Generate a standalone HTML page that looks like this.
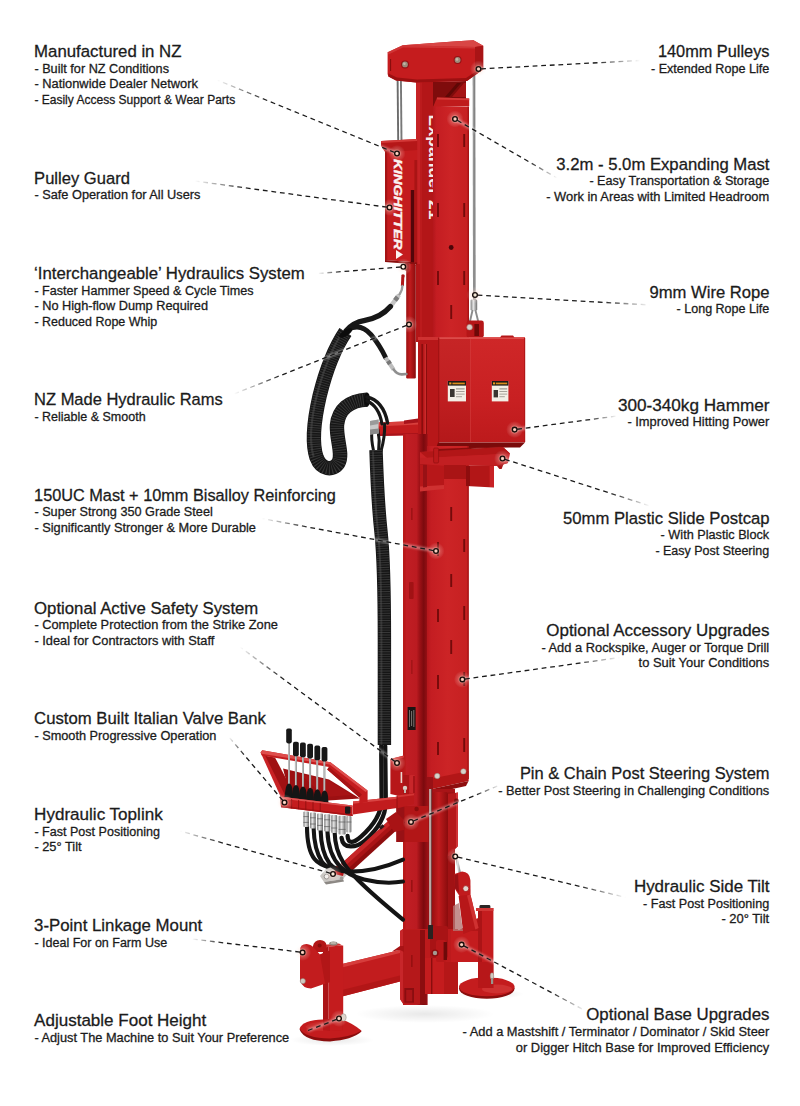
<!DOCTYPE html>
<html><head><meta charset="utf-8"><title>Post Driver Features</title>
<style>
html,body{margin:0;padding:0;background:#fff;}
body{width:800px;height:1106px;overflow:hidden;font-family:"Liberation Sans",sans-serif;}
svg{display:block;}
svg text{font-family:"Liberation Sans",sans-serif;}
</style></head><body>
<svg width="800" height="1106" viewBox="0 0 800 1106">
<defs>
<filter id="blur" x="-20%" y="-20%" width="140%" height="140%"><feGaussianBlur stdDeviation="1.3"/></filter>
<radialGradient id="glow"><stop offset="0" stop-color="#fff3d8" stop-opacity="0.9"/><stop offset="0.28" stop-color="#ffe6cf" stop-opacity="0.6"/><stop offset="0.55" stop-color="#ffd9cf" stop-opacity="0.22"/><stop offset="1" stop-color="#fff" stop-opacity="0"/></radialGradient>
<linearGradient id="lg0" gradientUnits="userSpaceOnUse" x1="397" y1="153.5" x2="217" y2="80"><stop offset="0" stop-color="#1a1a1a"/><stop offset="0.72" stop-color="#1a1a1a"/><stop offset="1" stop-color="#1a1a1a" stop-opacity="0"/></linearGradient>
<linearGradient id="lg1" gradientUnits="userSpaceOnUse" x1="389.5" y1="207.5" x2="195" y2="181"><stop offset="0" stop-color="#1a1a1a"/><stop offset="0.72" stop-color="#1a1a1a"/><stop offset="1" stop-color="#1a1a1a" stop-opacity="0"/></linearGradient>
<linearGradient id="lg2" gradientUnits="userSpaceOnUse" x1="403.3" y1="266.8" x2="318" y2="273.5"><stop offset="0" stop-color="#1a1a1a"/><stop offset="0.72" stop-color="#1a1a1a"/><stop offset="1" stop-color="#1a1a1a" stop-opacity="0"/></linearGradient>
<linearGradient id="lg3" gradientUnits="userSpaceOnUse" x1="409" y1="324.4" x2="234" y2="394"><stop offset="0" stop-color="#1a1a1a"/><stop offset="0.72" stop-color="#1a1a1a"/><stop offset="1" stop-color="#1a1a1a" stop-opacity="0"/></linearGradient>
<linearGradient id="lg4" gradientUnits="userSpaceOnUse" x1="436" y1="551" x2="262" y2="518.5"><stop offset="0" stop-color="#1a1a1a"/><stop offset="0.72" stop-color="#1a1a1a"/><stop offset="1" stop-color="#1a1a1a" stop-opacity="0"/></linearGradient>
<linearGradient id="lg5" gradientUnits="userSpaceOnUse" x1="397" y1="763" x2="240" y2="647"><stop offset="0" stop-color="#1a1a1a"/><stop offset="0.72" stop-color="#1a1a1a"/><stop offset="1" stop-color="#1a1a1a" stop-opacity="0"/></linearGradient>
<linearGradient id="lg6" gradientUnits="userSpaceOnUse" x1="284.5" y1="802.5" x2="229" y2="737"><stop offset="0" stop-color="#1a1a1a"/><stop offset="0.72" stop-color="#1a1a1a"/><stop offset="1" stop-color="#1a1a1a" stop-opacity="0"/></linearGradient>
<linearGradient id="lg7" gradientUnits="userSpaceOnUse" x1="333" y1="874" x2="180" y2="831"><stop offset="0" stop-color="#1a1a1a"/><stop offset="0.72" stop-color="#1a1a1a"/><stop offset="1" stop-color="#1a1a1a" stop-opacity="0"/></linearGradient>
<linearGradient id="lg8" gradientUnits="userSpaceOnUse" x1="302.6" y1="952.4" x2="192" y2="939"><stop offset="0" stop-color="#1a1a1a"/><stop offset="0.72" stop-color="#1a1a1a"/><stop offset="1" stop-color="#1a1a1a" stop-opacity="0"/></linearGradient>
<linearGradient id="lg10" gradientUnits="userSpaceOnUse" x1="478.5" y1="69" x2="640" y2="60.5"><stop offset="0" stop-color="#1a1a1a"/><stop offset="0.72" stop-color="#1a1a1a"/><stop offset="1" stop-color="#1a1a1a" stop-opacity="0"/></linearGradient>
<linearGradient id="lg11" gradientUnits="userSpaceOnUse" x1="455" y1="119" x2="557" y2="178"><stop offset="0" stop-color="#1a1a1a"/><stop offset="0.72" stop-color="#1a1a1a"/><stop offset="1" stop-color="#1a1a1a" stop-opacity="0"/></linearGradient>
<linearGradient id="lg12" gradientUnits="userSpaceOnUse" x1="475" y1="295" x2="650" y2="305"><stop offset="0" stop-color="#1a1a1a"/><stop offset="0.72" stop-color="#1a1a1a"/><stop offset="1" stop-color="#1a1a1a" stop-opacity="0"/></linearGradient>
<linearGradient id="lg13" gradientUnits="userSpaceOnUse" x1="514.6" y1="429.6" x2="617" y2="416"><stop offset="0" stop-color="#1a1a1a"/><stop offset="0.72" stop-color="#1a1a1a"/><stop offset="1" stop-color="#1a1a1a" stop-opacity="0"/></linearGradient>
<linearGradient id="lg14" gradientUnits="userSpaceOnUse" x1="502.5" y1="458.5" x2="650" y2="506"><stop offset="0" stop-color="#1a1a1a"/><stop offset="0.72" stop-color="#1a1a1a"/><stop offset="1" stop-color="#1a1a1a" stop-opacity="0"/></linearGradient>
<linearGradient id="lg15" gradientUnits="userSpaceOnUse" x1="462.4" y1="679.4" x2="620" y2="657.5"><stop offset="0" stop-color="#1a1a1a"/><stop offset="0.72" stop-color="#1a1a1a"/><stop offset="1" stop-color="#1a1a1a" stop-opacity="0"/></linearGradient>
<linearGradient id="lg16" gradientUnits="userSpaceOnUse" x1="411" y1="822" x2="500" y2="785"><stop offset="0" stop-color="#1a1a1a"/><stop offset="0.72" stop-color="#1a1a1a"/><stop offset="1" stop-color="#1a1a1a" stop-opacity="0"/></linearGradient>
<linearGradient id="lg17" gradientUnits="userSpaceOnUse" x1="455.2" y1="856.4" x2="626" y2="897.5"><stop offset="0" stop-color="#1a1a1a"/><stop offset="0.72" stop-color="#1a1a1a"/><stop offset="1" stop-color="#1a1a1a" stop-opacity="0"/></linearGradient>
<linearGradient id="lg18" gradientUnits="userSpaceOnUse" x1="461.6" y1="944.6" x2="585" y2="1010.5"><stop offset="0" stop-color="#1a1a1a"/><stop offset="0.72" stop-color="#1a1a1a"/><stop offset="1" stop-color="#1a1a1a" stop-opacity="0"/></linearGradient>
</defs>
<rect width="800" height="1106" fill="#fff"/>
<defs>
<linearGradient id="gFront" x1="0" x2="1" y1="0" y2="0"><stop offset="0" stop-color="#b4171c"/><stop offset="0.1" stop-color="#c41d22"/><stop offset="0.5" stop-color="#cc2426"/><stop offset="1" stop-color="#c62021"/></linearGradient>
<linearGradient id="gSide" x1="0" x2="1" y1="0" y2="0"><stop offset="0" stop-color="#c8252a"/><stop offset="0.12" stop-color="#c11e24"/><stop offset="0.55" stop-color="#bb1b21"/><stop offset="0.68" stop-color="#9c1116"/><stop offset="0.84" stop-color="#7c0a0e"/><stop offset="1" stop-color="#9a1015"/></linearGradient>
<linearGradient id="gCyl" x1="0" x2="1" y1="0" y2="0"><stop offset="0" stop-color="#9c1011"/><stop offset="0.4" stop-color="#c01b1d"/><stop offset="1" stop-color="#8a0c0d"/></linearGradient>
<linearGradient id="gBox" x1="0" x2="0" y1="0" y2="1"><stop offset="0" stop-color="#cf2728"/><stop offset="0.6" stop-color="#c82022"/><stop offset="1" stop-color="#bd1a1c"/></linearGradient>
<linearGradient id="gChrome" x1="0" x2="1" y1="0" y2="0"><stop offset="0" stop-color="#7e7e7e"/><stop offset="0.42" stop-color="#e6e6e6"/><stop offset="1" stop-color="#6c6c6c"/></linearGradient>
<radialGradient id="gShadow"><stop offset="0" stop-color="#000" stop-opacity="0.09"/><stop offset="1" stop-color="#000" stop-opacity="0"/></radialGradient>
<clipPath id="clipCol"><rect x="416" y="82" width="17.2" height="260"/></clipPath>
</defs>
<g id="machine">
<!-- ground shadows -->
<ellipse cx="425" cy="1014" rx="70" ry="9" fill="url(#gShadow)"/>
<ellipse cx="332" cy="1040" rx="42" ry="6" fill="url(#gShadow)"/>
<ellipse cx="490" cy="994" rx="34" ry="5" fill="url(#gShadow)"/>

<!-- ===== left guide rods & right rope ===== -->
<line x1="397.6" y1="78" x2="398.2" y2="141" stroke="#6c6c6c" stroke-width="1.9"/>
<line x1="400.9" y1="78" x2="401.5" y2="141" stroke="#787878" stroke-width="1.9"/>
<line x1="474" y1="70" x2="474.3" y2="301" stroke="#7a7a7a" stroke-width="2.6"/><line x1="473.7" y1="70" x2="474" y2="301" stroke="#b5b5b5" stroke-width="0.7"/>
<rect x="470.6" y="299.6" width="6.6" height="10.8" rx="1.2" fill="url(#gChrome)"/>
<path d="M472.6 310 L469.6 323 M475.4 310 L478.6 323" stroke="#8c8c8c" stroke-width="1.9" fill="none"/>

<!-- ===== main column (behind) ===== -->
<rect x="416" y="80" width="18" height="262" fill="#b31618"/>
<rect x="416" y="80" width="4" height="184" fill="#c62225"/><rect x="420" y="80" width="2" height="262" fill="#bb1b1d"/>
<g clip-path="url(#clipCol)"><text transform="translate(428.8,114.6) rotate(90)" font-size="17" font-weight="700" fill="#f6ebe8" textLength="105" lengthAdjust="spacingAndGlyphs">Expander 21</text></g>

<!-- gap + brace under head -->
<polygon points="433,82 466,81 466,99 433,108" fill="#7f0c0c"/>
<polygon points="452,97 464,83 466,83 466,97" fill="#a51415"/>
<polygon points="449,97 461,83 457,83 445,97" fill="#5e0806"/>
<!-- inner mast top cap -->
<polygon points="437,97.5 469.2,98.5 469.2,106 433,107.2" fill="#bf1b1c"/>
<polygon points="437,97.5 469.2,98.5 469.2,100.2 437,99.4" fill="#d43938"/>
<!-- inner mast front face -->
<rect x="433" y="106.5" width="35.6" height="232" fill="url(#gFront)"/>
<rect x="467.6" y="106.5" width="1.4" height="232" fill="#a81314"/>
<!-- slots upper -->
<g stroke="#740b0b" stroke-width="1.9" stroke-linecap="butt">
<line x1="438" y1="134" x2="438" y2="147"/><line x1="464.2" y1="134" x2="464.2" y2="147"/>
<line x1="438" y1="203" x2="438" y2="217"/><line x1="464.2" y1="203" x2="464.2" y2="217"/>
<line x1="438" y1="271" x2="438" y2="285"/><line x1="464.2" y1="271" x2="464.2" y2="285"/>
<line x1="451.2" y1="305" x2="451.2" y2="319"/>
</g>
<circle cx="451.2" cy="247.5" r="2.4" fill="#4a0508"/>

<!-- ===== head block ===== -->
<polygon points="387.6,52.2 402.7,45.3 457,41.2 473.5,40.2 483.2,45.8 483.2,69.4 478,73 467,81 416,82.6 396,80.4 388.4,76.4 387.6,74" fill="#c51c1e"/>
<polygon points="402.7,45.3 457,41.2 473.5,40.2 483.2,45.8 475,46.9" fill="#d84645"/>
<polygon points="387.6,52.2 402.7,45.3 475,46.9 475,48.6 403,47.6 388.4,54.6" fill="#d23b3b" opacity="0.8"/>
<polygon points="475,46.9 483.2,45.8 483.2,69.4 478,73 475,75.2" fill="#a91416"/>
<polygon points="388.4,76.4 396,80.4 416,82.6 467,81 478,73 483.2,69.4 483.2,66.6 476,71.4 466,78 417,79.6 397,77.4 388.4,73.4" fill="#9c1011"/>
<rect x="390" y="59" width="1.1" height="12" fill="#8a0d0d"/>
<circle cx="405" cy="64.4" r="4" fill="#941215"/><circle cx="405" cy="64.4" r="2.9" fill="#9b8b7b"/><circle cx="404.4" cy="63.8" r="1.3" fill="#c4b6a6"/>
<circle cx="457.6" cy="60" r="4" fill="#941215"/><circle cx="457.6" cy="60" r="2.9" fill="#9b8b7b"/><circle cx="457" cy="59.4" r="1.3" fill="#c4b6a6"/>

<!-- ===== pulley guard ===== -->
<polygon points="385,151 417.2,149 417.2,262.6 385,260" fill="#c41c1e"/>
<polygon points="381,141 417.2,139 417.2,150 385.4,152.4 381,146" fill="#b51718"/>
<polygon points="381,141 417.2,139 417.2,141 381.4,143" fill="#d33837"/>
<rect x="385" y="151" width="2.2" height="109" fill="#a51314"/>
<rect x="410.8" y="190" width="3.6" height="73" fill="#52060a"/>
<rect x="414.4" y="160" width="2.8" height="103" fill="#a91415"/>
<text transform="translate(394.4,159) rotate(90)" font-size="11.6" font-weight="700" font-style="italic" fill="#fbf3f1" stroke="#fbf3f1" stroke-width="0.4" textLength="90.5" lengthAdjust="spacingAndGlyphs">KINGHITTER</text>
<polygon points="396,250 403,254.5 396,259" fill="#fbf3f1"/>
<polygon points="385,260 417.2,262.6 417.2,264.6 385,262" fill="#8a0d0d"/>

<!-- ram cylinder -->
<rect x="406.2" y="264" width="9.6" height="114.5" rx="1.2" fill="url(#gCyl)"/>
<rect x="404.6" y="262.4" width="4" height="8" rx="1" fill="#8d0e0f"/>
<circle cx="403" cy="276" r="1.8" fill="#a81516"/>

<!-- ===== shackle above hammer ===== -->
<rect x="466.6" y="320.6" width="17.2" height="17" rx="2.4" fill="#b51618"/>
<rect x="474.4" y="324" width="4.6" height="12" fill="#6d0908"/>
<circle cx="469.6" cy="327.2" r="2.9" fill="#d9cdc6" stroke="#9c5f5a" stroke-width="0.6"/>

<!-- ===== hammer box ===== -->
<rect x="418" y="337" width="21" height="110" fill="#b71719"/>
<rect x="418" y="337" width="21" height="3" fill="#cf3131"/>
<rect x="421.4" y="344" width="1.6" height="92" fill="#8a0d0d"/>
<rect x="424.6" y="344" width="1.2" height="92" fill="#cf3131"/>
<rect x="426" y="344" width="1" height="92" fill="#8a0d0d"/>
<rect x="438" y="337.4" width="87" height="105" fill="url(#gBox)"/>
<rect x="438" y="337.4" width="32.4" height="105" fill="#000" opacity="0.045"/>
<line x1="470.4" y1="338" x2="470.4" y2="442" stroke="#d84545" stroke-width="0.7" opacity="0.8"/>
<rect x="438" y="337.2" width="87" height="1.8" fill="#dc4b4a"/>
<polygon points="500,337.6 501.5,335.4 513,335.4 514.5,337.6" fill="#b51618"/>
<rect x="438" y="337.4" width="1.3" height="105" fill="#a41213"/>
<rect x="524" y="338" width="1.2" height="104" fill="#b21617"/>
<!-- stickers -->
<g>
<rect x="447.8" y="381" width="18.2" height="20.4" fill="#f3efe6"/>
<rect x="447.8" y="381" width="18.2" height="4.6" fill="#1d1a16"/>
<rect x="449.2" y="382.4" width="2.2" height="2" fill="#eb9a1f"/><rect x="452.4" y="382.6" width="12.4" height="1.7" fill="#d98c1c"/>
<rect x="450" y="389" width="4.6" height="8" fill="#3a3631"/>
<rect x="456" y="388.4" width="8.6" height="1" fill="#8b867e"/><rect x="456" y="391" width="8.6" height="1" fill="#a7a29a"/><rect x="456" y="393.6" width="8.6" height="1" fill="#a7a29a"/><rect x="456" y="396.2" width="6" height="1" fill="#a7a29a"/>
<rect x="491.8" y="381" width="16.6" height="20.4" fill="#f3efe6"/>
<rect x="491.8" y="381" width="16.6" height="4.6" fill="#1d1a16"/>
<rect x="493" y="382.4" width="2.2" height="2" fill="#eb9a1f"/><rect x="496" y="382.6" width="11.2" height="1.7" fill="#d98c1c"/>
<rect x="493.6" y="390" width="4.4" height="7.4" fill="#3a3631"/>
<rect x="499.4" y="388.4" width="7.8" height="1" fill="#8b867e"/><rect x="499.4" y="391" width="7.8" height="1" fill="#a7a29a"/><rect x="499.4" y="393.6" width="7.8" height="1" fill="#a7a29a"/><rect x="499.4" y="396.2" width="5.4" height="1" fill="#a7a29a"/>
</g>
<!-- box bottom shadow -->
<polygon points="438,442.4 525,442.4 520,447.4 436,448.6" fill="#7a0a0a"/>

<!-- left arm from hammer frame (hose clamp arm) -->
<polygon points="377,422.6 418,421 418,435 377,436" fill="#c21c1d"/>
<polygon points="377,422.6 418,421 418,424.6 377,426.4" fill="#d83f3c"/>
<polygon points="377,434 418,433 418,435 377,436" fill="#a8131a"/>
<polygon points="404,420.4 418,418.6 418,422.4 404,424" fill="#a8131a"/>
<!-- ===== lower mast ===== -->
<rect x="403" y="434" width="24.6" height="571" fill="url(#gSide)"/>
<rect x="403" y="434" width="2.6" height="571" fill="#b8191a"/>
<rect x="427" y="446" width="41.4" height="333" fill="url(#gFront)"/>

<rect x="467.4" y="446" width="1.4" height="333" fill="#a81314"/>
<!-- faint details on side face -->
<rect x="411" y="508" width="1.6" height="12" fill="#8a0d0d" opacity="0.6"/>
<rect x="409" y="582" width="4.6" height="17" rx="1" fill="#9a1011" opacity="0.8"/>
<rect x="411" y="660" width="1.6" height="14" fill="#8a0d0d" opacity="0.5"/>
<!-- slots lower -->
<g stroke="#740b0b" stroke-width="1.9">
<line x1="451.2" y1="507" x2="451.2" y2="521"/>
<line x1="438" y1="542" x2="438" y2="556"/><line x1="464.2" y1="539" x2="464.2" y2="552"/>
<line x1="451.2" y1="574" x2="451.2" y2="587"/>
<line x1="438" y1="609" x2="438" y2="622"/><line x1="464.2" y1="606" x2="464.2" y2="620"/>
<line x1="451.2" y1="640" x2="451.2" y2="654"/>
<line x1="438" y1="675" x2="438" y2="689"/><line x1="464.2" y1="672" x2="464.2" y2="686"/>
<line x1="438" y1="742" x2="438" y2="755"/><line x1="464.2" y1="738" x2="464.2" y2="752"/>
</g>
<!-- black plate label -->
<rect x="407.6" y="707" width="8" height="23" fill="#1a1413"/>
<g stroke="#c9c2bd" stroke-width="0.7" opacity="0.8"><line x1="409.4" y1="710" x2="409.4" y2="727"/><line x1="411.6" y1="711" x2="411.6" y2="726"/><line x1="413.8" y1="710" x2="413.8" y2="727"/></g>

<!-- ===== postcap ===== -->
<polygon points="420,452 503,447 510,453.6 508,463 498,466 420,464" fill="#c82225"/>
<polygon points="420,452 503,447 510,453.6 427,458" fill="#b21617"/>
<polygon points="436,449 500,446.4 503,447 438,451" fill="#8a0d0d"/>
<polygon points="420,458 508,454 508,463 498,466 420,464.4" fill="#c21f22"/>
<rect x="433.6" y="448" width="5" height="15" rx="1.2" fill="#bb191b" stroke="#8a0d0d" stroke-width="0.6"/>
<polygon points="497,466 504,463 501.6,469 499.4,469" fill="#a81315"/>
<!-- brackets under postcap -->
<polygon points="420,464.4 444,465.4 444,487 420,489.4" fill="#b71719"/>
<polygon points="420,486.6 444,485 444,489 420,491.4" fill="#cf3131"/>
<polygon points="423,465 427,465 427,487 423,487.6" fill="#981115"/>
<polygon points="466,465.6 494,465.6 494,487.4 466,486" fill="#b21617"/>
<rect x="466" y="466" width="4" height="20" fill="#8e0d0e"/>
<rect x="489.6" y="466" width="4.4" height="21" fill="#c82225"/>
<rect x="444" y="465" width="22" height="14" fill="#a91415"/>

<!-- ===== lower front plate end + bolts ===== -->
<polygon points="430,779 468.6,771 468.6,781 432,789" fill="#b21617"/>
<polygon points="432,789 468.6,781 466,786 434,793" fill="#8e0d0e"/>
<circle cx="437.2" cy="776" r="2.7" fill="#d8d2ca" stroke="#8d857a" stroke-width="0.5"/>
<circle cx="463.4" cy="771.4" r="2.7" fill="#d8d2ca" stroke="#8d857a" stroke-width="0.5"/>

<!-- ===== lower assembly (below plate) ===== -->
<rect x="427" y="777" width="6" height="14" fill="#981115"/><rect x="427" y="789" width="28" height="205" fill="#a81417"/>
<rect x="427" y="789" width="6" height="150" fill="#981115"/>
<rect x="429.2" y="789" width="1.7" height="139" fill="#c9c4be"/>
<rect x="430.9" y="789" width="0.8" height="139" fill="#6a5552"/>
<rect x="432.6" y="792" width="15.4" height="151" rx="2" fill="url(#gCyl)"/>
<rect x="448" y="792" width="7" height="140" fill="#a01214"/>
<polygon points="448,794 458,792.6 458,846 449,856 448,856" fill="#b5181a"/><polygon points="456,793 458,792.6 458,846 456,848" fill="#cf3134"/>
<circle cx="456.4" cy="801" r="2.4" fill="#7d0b0b"/>

<!-- left bracket on mast (safety system) -->
<polygon points="390.4,759 404,755.6 404,797 390.4,794" fill="#b71719"/>
<polygon points="390.4,759 404,755.6 404,757.6 390.4,761" fill="#d03635"/>
<rect x="400.6" y="772" width="1.6" height="11" fill="#e9d9d0"/>
<rect x="403" y="775" width="6" height="22" fill="#ab1416"/><rect x="409.4" y="775" width="5.6" height="18" rx="1.4" fill="#c8262a"/><rect x="413" y="776" width="2" height="17" fill="#a51318"/>
<circle cx="405" cy="788" r="2.2" fill="#d9cfc6"/><rect x="404" y="789" width="2" height="4" fill="#c5bbb2"/>

<!-- horizontal arm to valve bank -->

<!-- lower mast bracket near pin -->
<rect x="396.4" y="806" width="32" height="36" fill="#b21617"/>
<rect x="396.4" y="806" width="8" height="36" fill="#981115"/>
<circle cx="416.6" cy="809" r="2.2" fill="#8a0d0d"/>
<circle cx="401.4" cy="823.6" r="1.6" fill="#7d0b0b"/>

<!-- ===== base block ===== -->
<polygon points="400,931 403,929 458,929 458,993 425,994 425,1003.4 403.6,1004.6 400,999" fill="#bd1a1c"/>
<polygon points="400,931 403,929 403.6,1004.6 400,999" fill="#c7262a"/>
<rect x="403" y="930" width="22" height="74" fill="#b5181a"/><rect x="420" y="930" width="5" height="74" fill="#8c0d0f"/>
<rect x="425" y="958" width="19" height="36" fill="#c41c1e"/><rect x="431" y="958" width="1.4" height="36" fill="#8a0d0d"/>
<rect x="444" y="962" width="14" height="32" fill="#b51718"/>
<rect x="404.4" y="988" width="9.6" height="14.6" fill="#8a0d10"/>
<rect x="406.2" y="990" width="6" height="11.4" fill="#ab1518"/>
<rect x="411" y="880" width="1.6" height="12" fill="#8a0d0d" opacity="0.7"/>
<rect x="411" y="955" width="1.6" height="12" fill="#8a0d0d" opacity="0.7"/>
<!-- pin/clevis at base of cylinder -->
<rect x="430" y="926" width="18" height="32" rx="2" fill="#a81315"/>
<rect x="436" y="940" width="10" height="22" rx="2" fill="#b71719"/>
<circle cx="435" cy="953" r="3.6" fill="#8a0d0d"/><circle cx="435" cy="953" r="2.2" fill="#a39a92"/>
<rect x="443.6" y="942" width="3.4" height="18" fill="#6d0a09"/>
<rect x="428" y="925" width="5" height="14" fill="#2a2220"/>

<!-- ===== 3-pt linkage beam ===== -->
<polygon points="342,964 400,950 400,981.6 342,996.6" fill="#c21c1e"/>
<polygon points="342,964 400,950 400,953 342,967.4" fill="#d63d3c"/>
<polygon points="342,990 400,975.6 400,981.6 342,996.6" fill="#b21617"/>
<polygon points="392,951.6 400,946 404,946 404,952 400,950" fill="#a81315"/>
<!-- left post -->
<polygon points="323,948 328.6,946.6 328.6,1030 323,1029" fill="#ab1417"/>
<polygon points="328.6,946.6 343.2,945.6 343.2,1029 328.6,1030" fill="#c41c1e"/>
<polygon points="323,948 330,946.6 342.4,945.6 339,943.6 321.6,945" fill="#d03635"/>
<ellipse cx="333.4" cy="943.6" rx="4.2" ry="2" fill="#8f887f"/><ellipse cx="333.4" cy="943" rx="3" ry="1.3" fill="#b9b2a8"/>
<!-- rear ear -->
<path d="M313,946 Q314,940.6 320,940 Q326,940.4 326.4,945 L326.4,952 L313,952 Z" fill="#b21617"/>
<circle cx="319.6" cy="945.6" r="2" fill="#8a0d0d"/>
<!-- front linkage plate -->
<path d="M300,950 Q300,944 306.6,944 Q311.6,944.4 314,948 L320,954.4 L330,950.4 L330,982 L311,988.6 Q303,988.6 300,981 Z" fill="#c21c1e"/>
<path d="M320,954.4 L330,950.4 L330,982 L325,983.6 Z" fill="#b21617"/>
<circle cx="302.8" cy="981" r="2.6" fill="#d0c9c0" stroke="#8d857a" stroke-width="0.5"/>
<!-- left foot -->
<path d="M299.6,1029.4 Q303,1021 323,1020 L342,1020 Q352,1024 361.6,1031.6 Q352,1040 330,1041.4 Q304,1041 299.6,1029.4 Z" fill="#8a0d0d"/>
<path d="M299.6,1028.4 Q303,1020.4 323,1019.6 L342,1019.6 Q352,1023 361.6,1030.8 Q350,1037.4 330,1038.4 Q305,1038 299.6,1028.4 Z" fill="#c41c1e"/>
<path d="M305,1027 Q310,1022.4 323,1021.6 L323,1031 Q312,1031 305,1027Z" fill="#d03635" opacity="0.55"/>
<polygon points="323,1019 342.4,1019 342.4,1030 330,1031 323,1030" fill="#b71719"/>
<polygon points="330,1019 342.4,1019 342.4,1030 330,1031" fill="#c41c1e"/>
<ellipse cx="343.6" cy="1017.4" rx="2.6" ry="3.6" fill="#d6d0c8" stroke="#8d857a" stroke-width="0.5"/>

<!-- ===== right side: gusset, post, foot ===== -->
<polygon points="458,931 478,921 478,912 493,908 493,962 458,962" fill="#c11b1d"/>
<polygon points="451,930 493,930 493,962 451,962" fill="#c41c1e"/>
<polygon points="458,931 478,918 478,931" fill="#b21617"/>
<!-- right foot disc -->
<ellipse cx="486.8" cy="988.6" rx="27.8" ry="10.2" fill="#8a0d0d"/>
<ellipse cx="486.8" cy="986.8" rx="27.8" ry="9.4" fill="#c41c1e"/>
<ellipse cx="497" cy="989" rx="15" ry="4.4" fill="#d94544" opacity="0.5"/>
<!-- right post -->
<rect x="478" y="908" width="15.4" height="80" fill="#c41c1e"/>
<rect x="478" y="908" width="4" height="80" fill="#ab1416"/>
<rect x="478" y="962" width="15.4" height="26" fill="#b71719"/>
<rect x="479.4" y="905" width="11" height="4.4" rx="1.4" fill="#2b2524"/>
<polygon points="476,908 493.4,908 493.4,911 476,911" fill="#d03635"/>
<ellipse cx="492" cy="976" rx="1.8" ry="3.2" fill="#cfc8bf" stroke="#8d857a" stroke-width="0.4"/>
<rect x="491" y="978" width="2.2" height="6" fill="#9a948c"/>

<!-- side tilt ram -->
<polygon points="455.4,858 457.6,857.4 461,873 458.4,873.6" fill="url(#gChrome)"/>
<path d="M454.4,874 L462,871.6 Q469.6,872 470.4,880 L470.6,894 Q468,900 461,898.6 L455,889 Z" fill="#c11b1d"/>
<path d="M454.6,875 L458,874 L459,893 L455,888 Z" fill="#981115"/>
<circle cx="465.8" cy="888.6" r="3" fill="#e0d6cf" stroke="#a41315" stroke-width="0.8"/>
<polygon points="458.6,896 470.4,894.6 478.6,928 463.4,934" fill="#b71719"/>
<polygon points="467,895.4 470.4,894.6 478.6,928 475.4,929.4" fill="#cf3131"/>
<polygon points="453,906 459,903 463,931 453,931" fill="#b57472" opacity="0.8"/>

<!-- ===== HOSES ===== -->
<g fill="none" stroke-linecap="round">
<!-- hoses from couplers sweeping to mast (drawn before toplink) -->
<g stroke="#141414" stroke-width="4.1">
<path d="M381.2,746 L381.6,800 C381.4,814 373,826 361,836.6 C353,843.6 348,844 347.6,836" stroke-width="4.3"/>
<path d="M385.2,746 L385.8,802 C385.6,817 377,830 365,840.6 C357,847.6 343,850 341.6,838" stroke-width="4.3"/>
<path d="M307,826 C307,842 309,852 314.5,859 C318,863.6 324,866 331,868"/>
<path d="M313.6,828 C314,844 317,854 322,862 C325.6,866.6 330,868.6 336,870"/>
</g>
</g>

<!-- ===== toplink ram ===== -->
<polygon points="396,814 404,822 349,872 341,864" fill="#aa1416"/>
<polygon points="396,814 399,817 344,867 341,864" fill="#c72628"/>
<polygon points="402,819.6 405,822.6 349.6,873 346.6,870" fill="#8e0d0e"/>
<polygon points="386,819 396,812 404,820 404,830 394,832" fill="#a81315"/>
<rect x="379" y="826" width="5" height="3" transform="rotate(-42 381 827)" fill="#2a1a1a"/>
<!-- silver clevis -->
<polygon points="341,864 349,872 343,879 324,882 320,876 326,869" fill="#c9c6c2"/>
<polygon points="324,882 343,879 344,881.6 326,884.6" fill="#8b8783"/>
<circle cx="326.6" cy="876.6" r="2.4" fill="#f2f0ee" stroke="#8b8783" stroke-width="0.8"/>
<polygon points="336,866 345,868 343,876 334,874" fill="#b71719"/>
<circle cx="341.6" cy="878.4" r="1.8" fill="#9d9a96"/>

<g fill="none" stroke-linecap="round">
<g stroke="#141414" stroke-width="4.1">
<path d="M320.6,830 C321,846 324,856 329.5,863.5 C334,869 340,871.4 348,871.6 C366,872 386,867 403,859.6"/>
<path d="M327.4,831 C328,848 332,858 340,866.5 C346,873 354,877 364,879.6 C378,883 392,883.4 403,881.6"/>
<path d="M334.6,832 C335,846 338,854 343,862 C347,868.6 352,874 358,880 C366,888 384,904 403,919.6"/>
</g>

<!-- upper thin hoses -->
<path d="M402.8,277 L402.4,286" stroke="#b01718" stroke-width="3" stroke-linecap="butt"/>
<path d="M402.4,286 C402.4,291 400.6,292.6 399,295" stroke="#9a9a9a" stroke-width="2.4"/>
<path d="M399,295 L390.4,306.6" stroke="#c4c4c4" stroke-width="4.4" stroke-linecap="butt"/>
<path d="M397.6,297 L395,300.4" stroke="#7d7d7d" stroke-width="4.6" stroke-linecap="butt"/>
<path d="M390.4,306.6 C384,314 375,318.6 365,320.4 C356,322 350,326 346,331" stroke="#171717" stroke-width="5.3"/>
<path d="M348,329.6 C356,325 364,326.4 371,334.6 C378,343 382.6,351 385.6,357.6" stroke="#171717" stroke-width="4.8"/>
<path d="M385.6,357.6 L393.6,369.6" stroke="#bdbdbd" stroke-width="4.2" stroke-linecap="butt"/>
<path d="M388,361 L390,364" stroke="#777" stroke-width="4.4" stroke-linecap="butt"/>
<path d="M393.6,369.6 C396,373 399,374.6 402,374.4 L406.4,374" stroke="#8f8f8f" stroke-width="2.6"/>

<!-- big corrugated loop -->
<path id="hoseA" d="M345.4,332 C336,346 326,370 319.6,396 C313.6,422 312,444 316.6,457.6 C321,469.6 333,471.4 338.4,463 C343.4,454.6 336,439 337,425 C338.4,410 349,400.6 367,399.6" stroke="#161616" stroke-width="14.4" stroke-linecap="butt"/>
<path d="M345.4,332 C336,346 326,370 319.6,396 C313.6,422 312,444 316.6,457.6 C321,469.6 333,471.4 338.4,463 C343.4,454.6 336,439 337,425 C338.4,410 349,400.6 367,399.6" stroke="#3d3d3d" stroke-width="13" stroke-dasharray="0.9 1.5" stroke-linecap="butt" opacity="0.85"/>
<path d="M342,333 C333,347 323,371 316.4,397 C311,420 309.4,442 313.4,456" stroke="#555" stroke-width="2.2" opacity="0.45"/>
<!-- hose ends -->
<ellipse cx="345.6" cy="333" rx="7.6" ry="3" transform="rotate(-32 345.6 333)" fill="#0c0c0c"/>
<ellipse cx="367" cy="399.6" rx="3" ry="7.2" fill="#0c0c0c"/>

<!-- thin hoses from loop end to clamp -->
<path d="M367,397 C377,399 385,408 387.6,423" stroke="#171717" stroke-width="3.4"/>
<path d="M367,401 C374,404 380,412 382,424" stroke="#171717" stroke-width="3.2"/>
<path d="M372,430 C371,438 372,444 373.6,451" stroke="#171717" stroke-width="3"/>
<path d="M378,430 C379.6,438 379.6,444 378.6,451" stroke="#171717" stroke-width="3"/>
<path d="M384.6,424 C385,434 383,444 381,451" stroke="#171717" stroke-width="3"/>

<!-- lower corrugated hose -->
<path d="M376,450 C377,480 378,505 381,532 C384,560 384.4,600 384.4,640 L384.4,745" stroke="#161616" stroke-width="13.4" stroke-linecap="butt"/>
<path d="M376,450 C377,480 378,505 381,532 C384,560 384.4,600 384.4,640 L384.4,745" stroke="#3d3d3d" stroke-width="12" stroke-dasharray="0.9 1.5" stroke-linecap="butt" opacity="0.85"/>
<path d="M373,452 C374,480 375,505 378,532 C381,560 381.4,600 381.4,640 L381.4,744" stroke="#5a5a5a" stroke-width="2" opacity="0.4"/>
</g>
<!-- clamp block -->
<polygon points="370,421 378.6,419.6 378.6,433.4 370,434.6" fill="#c9c9c9"/>
<polygon points="370,421 378.6,419.6 378.6,424 370,425.4" fill="#9a9a9a"/>
<polygon points="370,429.4 378.6,428.4 378.6,433.4 370,434.6" fill="#8a8a8a"/>

<!-- arm -->
<polygon points="353,801.6 397,796.8 397,808 353,814.6" fill="#c21c1e"/>
<polygon points="353,801.6 397,796.8 397,798.8 353,803.8" fill="#d94544"/>
<polygon points="397,795.6 414,793.4 414,804 397,808.6" fill="#bb191b"/>
<polygon points="397,795.6 414,793.4 414,795.2 397,797.4" fill="#d23534"/>
<line x1="397" y1="795.6" x2="397" y2="808.6" stroke="#8e0d0e" stroke-width="0.8"/>
<!-- ===== VALVE BANK ===== -->
<!-- left side plate + tray -->
<polygon points="264,755.4 275,757.4 291,788 285.4,797 281,797" fill="#a01113"/>
<polygon points="283,768.6 329,779.4 360,798.6 328,800.6 290,796" fill="#9c1012"/>
<polygon points="300,774 329,780.6 352,795 325,797" fill="#b11618" opacity="0.55"/>
<!-- guard: left rail, top rail, right diagonal -->
<polygon points="260.6,752.6 264.6,754.4 285.6,796.6 281,797.4" fill="#c82225"/>
<polygon points="260.6,752.4 262.2,750.2 330.4,762.2 367.6,790.4 367.6,802 359.4,803.4 359.4,797.6 327.2,769.6 329,767 261.8,755.4" fill="#c41c1e"/>
<polygon points="260.6,752.4 262.2,750.2 330.4,762.2 367.6,790.4 365.6,792 329.6,764.6 261.6,753.8" fill="#de4d4c"/>
<polygon points="327.2,769.6 329,767 362,794.6 359.4,797.6" fill="#a81315"/>
<!-- lever rods -->
<g stroke-width="2">
<line x1="289" y1="742" x2="289" y2="786" stroke="#8f8f8f"/>
<line x1="295.9" y1="755" x2="295.9" y2="787" stroke="#8f8f8f"/>
<line x1="303" y1="756" x2="303" y2="788" stroke="#8f8f8f"/>
<line x1="310.1" y1="757" x2="310.1" y2="790" stroke="#8f8f8f"/>
<line x1="317.2" y1="759" x2="317.2" y2="791" stroke="#8f8f8f"/>
<line x1="324.4" y1="760" x2="324.4" y2="793" stroke="#8f8f8f"/>
</g>
<g stroke-width="0.7" stroke="#e6e6e6">
<line x1="288.8" y1="742" x2="288.8" y2="786"/><line x1="295.7" y1="755" x2="295.7" y2="787"/><line x1="302.8" y1="756" x2="302.8" y2="788"/><line x1="309.9" y1="757" x2="309.9" y2="790"/><line x1="317" y1="759" x2="317" y2="791"/><line x1="324.2" y1="760" x2="324.2" y2="793"/>
</g>
<!-- handles -->
<g fill="#171717">
<rect x="286.2" y="728.4" width="5.6" height="15" rx="1.8"/>
<rect x="293" y="741.8" width="5.8" height="14.4" rx="1.8"/>
<rect x="300" y="742.6" width="5.8" height="14.6" rx="1.8"/>
<rect x="307.2" y="743.8" width="5.8" height="14.6" rx="1.8"/>
<rect x="314.4" y="745.6" width="5.8" height="14.6" rx="1.8"/>
<rect x="321.6" y="747" width="5.8" height="14.6" rx="1.8"/>
</g>
<!-- lever bases -->
<g fill="#151515">
<path d="M284.4,797 L285.6,789 Q286.4,784 289,783.6 Q291.6,784 292.4,789 L293,798.6Z"/>
<path d="M291.4,798.6 L292.6,790.4 Q293.4,785.4 296,785 Q298.6,785.4 299.4,790.4 L300,800Z"/>
<path d="M298.4,800 L299.6,791.8 Q300.4,786.8 303,786.4 Q305.6,786.8 306.4,791.8 L307,801.4Z"/>
<path d="M305.6,801.2 L306.8,793.2 Q307.6,788.2 310.2,787.8 Q312.8,788.2 313.6,793.2 L314.2,802.6Z"/>
<path d="M312.8,802.4 L314,794.6 Q314.8,789.6 317.4,789.2 Q320,789.6 320.8,794.6 L321.4,803.8Z"/>
<path d="M320,803.6 L321.2,796 Q322,791 324.6,790.6 Q327.2,791 328,796 L328.6,805Z"/>
</g>
<!-- valve block -->
<polygon points="279.8,796.6 352.6,805.4 352.6,816 281,807.2" fill="#c41c1e"/>
<polygon points="279.8,796.6 352.6,805.4 352.6,807 279.9,798.4" fill="#de5150"/>
<polygon points="281,805.6 352.6,814.4 352.6,816 281,807.2" fill="#a81315"/>
<g stroke="#8e0d0e" stroke-width="0.8"><line x1="291.6" y1="799" x2="291.6" y2="808.4"/><line x1="298.6" y1="800" x2="298.6" y2="809.2"/><line x1="305.8" y1="801" x2="305.8" y2="810"/><line x1="313" y1="802" x2="313" y2="811"/><line x1="320.2" y1="803" x2="320.2" y2="812"/></g>
<rect x="345" y="806.4" width="5.4" height="7.4" rx="1.2" fill="#191919"/>
<!-- couplers -->
<g>
<rect x="303.4" y="811.6" width="5.6" height="15.4" rx="1" fill="url(#gChrome)"/>
<rect x="310" y="812.6" width="5.8" height="16" rx="1" fill="url(#gChrome)"/>
<rect x="317" y="813.4" width="6" height="17" rx="1" fill="url(#gChrome)"/>
<rect x="324.2" y="814.2" width="6" height="17.4" rx="1" fill="url(#gChrome)"/>
<rect x="331.2" y="815" width="6" height="18" rx="1" fill="url(#gChrome)"/>
<rect x="338.6" y="815.8" width="7" height="18.8" rx="1" fill="url(#gChrome)"/>
<rect x="346.4" y="816" width="5" height="16.4" rx="1" fill="url(#gChrome)"/>
<g stroke="#5d5d5d" stroke-width="0.9" opacity="0.8"><line x1="303.4" y1="816.6" x2="309" y2="816.6"/><line x1="310" y1="817.8" x2="315.8" y2="817.8"/><line x1="317" y1="818.8" x2="323" y2="818.8"/><line x1="324.2" y1="819.8" x2="330.2" y2="819.8"/><line x1="331.2" y1="820.8" x2="337.2" y2="820.8"/><line x1="338.6" y1="822" x2="345.6" y2="822"/><line x1="346.4" y1="822" x2="351.4" y2="822"/>
<line x1="303.4" y1="822.4" x2="309" y2="822.4"/><line x1="310" y1="824" x2="315.8" y2="824"/><line x1="317" y1="825.4" x2="323" y2="825.4"/><line x1="324.2" y1="826.6" x2="330.2" y2="826.6"/><line x1="331.2" y1="828" x2="337.2" y2="828"/><line x1="338.6" y1="829.4" x2="345.6" y2="829.4"/></g>
</g>
</g>

<g id="glows">
<circle cx="397" cy="153.5" r="8.5" fill="url(#glow)"/>
<circle cx="389.5" cy="207.5" r="8.5" fill="url(#glow)"/>
<circle cx="403.3" cy="266.8" r="8.5" fill="url(#glow)"/>
<circle cx="409" cy="324.4" r="8.5" fill="url(#glow)"/>
<circle cx="436" cy="551" r="8.5" fill="url(#glow)"/>
<circle cx="397" cy="763" r="8.5" fill="url(#glow)"/>
<circle cx="284.5" cy="802.5" r="8.5" fill="url(#glow)"/>
<circle cx="333" cy="874" r="8.5" fill="url(#glow)"/>
<circle cx="302.6" cy="952.4" r="8.5" fill="url(#glow)"/>
<circle cx="339" cy="1018.5" r="8.5" fill="url(#glow)"/>
<circle cx="478.5" cy="69" r="8.5" fill="url(#glow)"/>
<circle cx="455" cy="119" r="8.5" fill="url(#glow)"/>
<circle cx="475" cy="295" r="8.5" fill="url(#glow)"/>
<circle cx="514.6" cy="429.6" r="8.5" fill="url(#glow)"/>
<circle cx="502.5" cy="458.5" r="8.5" fill="url(#glow)"/>
<circle cx="462.4" cy="679.4" r="8.5" fill="url(#glow)"/>
<circle cx="411" cy="822" r="8.5" fill="url(#glow)"/>
<circle cx="455.2" cy="856.4" r="8.5" fill="url(#glow)"/>
<circle cx="461.6" cy="944.6" r="8.5" fill="url(#glow)"/>
</g>
<g id="halos" stroke="#fff" stroke-width="3.2" opacity="0.42" filter="url(#blur)">
<line x1="397" y1="153.5" x2="217" y2="80"/>
<line x1="389.5" y1="207.5" x2="195" y2="181"/>
<line x1="403.3" y1="266.8" x2="318" y2="273.5"/>
<line x1="409" y1="324.4" x2="234" y2="394"/>
<line x1="436" y1="551" x2="262" y2="518.5"/>
<line x1="397" y1="763" x2="240" y2="647"/>
<line x1="284.5" y1="802.5" x2="229" y2="737"/>
<line x1="333" y1="874" x2="180" y2="831"/>
<line x1="302.6" y1="952.4" x2="192" y2="939"/>
<line x1="339" y1="1018.5" x2="308" y2="1030.5"/>
<line x1="478.5" y1="69" x2="640" y2="60.5"/>
<line x1="455" y1="119" x2="557" y2="178"/>
<line x1="475" y1="295" x2="650" y2="305"/>
<line x1="514.6" y1="429.6" x2="617" y2="416"/>
<line x1="502.5" y1="458.5" x2="650" y2="506"/>
<line x1="462.4" y1="679.4" x2="620" y2="657.5"/>
<line x1="411" y1="822" x2="500" y2="785"/>
<line x1="455.2" y1="856.4" x2="626" y2="897.5"/>
<line x1="461.6" y1="944.6" x2="585" y2="1010.5"/>
</g>
<g id="leaders" fill="none">
<line x1="397" y1="153.5" x2="217" y2="80" stroke="url(#lg0)" stroke-width="1.3" stroke-dasharray="4.8 3.8" stroke-dashoffset="-2.6"/>
<line x1="389.5" y1="207.5" x2="195" y2="181" stroke="url(#lg1)" stroke-width="1.3" stroke-dasharray="4.8 3.8" stroke-dashoffset="-2.6"/>
<line x1="403.3" y1="266.8" x2="318" y2="273.5" stroke="url(#lg2)" stroke-width="1.3" stroke-dasharray="4.8 3.8" stroke-dashoffset="-2.6"/>
<line x1="409" y1="324.4" x2="234" y2="394" stroke="url(#lg3)" stroke-width="1.3" stroke-dasharray="4.8 3.8" stroke-dashoffset="-2.6"/>
<line x1="436" y1="551" x2="262" y2="518.5" stroke="url(#lg4)" stroke-width="1.3" stroke-dasharray="4.8 3.8" stroke-dashoffset="-2.6"/>
<line x1="397" y1="763" x2="240" y2="647" stroke="url(#lg5)" stroke-width="1.3" stroke-dasharray="4.8 3.8" stroke-dashoffset="-2.6"/>
<line x1="284.5" y1="802.5" x2="229" y2="737" stroke="url(#lg6)" stroke-width="1.3" stroke-dasharray="4.8 3.8" stroke-dashoffset="-2.6"/>
<line x1="333" y1="874" x2="180" y2="831" stroke="url(#lg7)" stroke-width="1.3" stroke-dasharray="4.8 3.8" stroke-dashoffset="-2.6"/>
<line x1="302.6" y1="952.4" x2="192" y2="939" stroke="url(#lg8)" stroke-width="1.3" stroke-dasharray="4.8 3.8" stroke-dashoffset="-2.6"/>
<line x1="339" y1="1018.5" x2="308" y2="1030.5" stroke="#1a1a1a" stroke-width="1.3" stroke-dasharray="4.8 3.8" stroke-dashoffset="-2.6"/>
<line x1="478.5" y1="69" x2="640" y2="60.5" stroke="url(#lg10)" stroke-width="1.3" stroke-dasharray="4.8 3.8" stroke-dashoffset="-2.6"/>
<line x1="455" y1="119" x2="557" y2="178" stroke="url(#lg11)" stroke-width="1.3" stroke-dasharray="4.8 3.8" stroke-dashoffset="-2.6"/>
<line x1="475" y1="295" x2="650" y2="305" stroke="url(#lg12)" stroke-width="1.3" stroke-dasharray="4.8 3.8" stroke-dashoffset="-2.6"/>
<line x1="514.6" y1="429.6" x2="617" y2="416" stroke="url(#lg13)" stroke-width="1.3" stroke-dasharray="4.8 3.8" stroke-dashoffset="-2.6"/>
<line x1="502.5" y1="458.5" x2="650" y2="506" stroke="url(#lg14)" stroke-width="1.3" stroke-dasharray="4.8 3.8" stroke-dashoffset="-2.6"/>
<line x1="462.4" y1="679.4" x2="620" y2="657.5" stroke="url(#lg15)" stroke-width="1.3" stroke-dasharray="4.8 3.8" stroke-dashoffset="-2.6"/>
<line x1="411" y1="822" x2="500" y2="785" stroke="url(#lg16)" stroke-width="1.3" stroke-dasharray="4.8 3.8" stroke-dashoffset="-2.6"/>
<line x1="455.2" y1="856.4" x2="626" y2="897.5" stroke="url(#lg17)" stroke-width="1.3" stroke-dasharray="4.8 3.8" stroke-dashoffset="-2.6"/>
<line x1="461.6" y1="944.6" x2="585" y2="1010.5" stroke="url(#lg18)" stroke-width="1.3" stroke-dasharray="4.8 3.8" stroke-dashoffset="-2.6"/>
</g>
<g id="rings">
<circle cx="397" cy="153.5" r="2.35" fill="none" stroke="#170d0b" stroke-width="1.35"/>
<circle cx="389.5" cy="207.5" r="2.35" fill="none" stroke="#170d0b" stroke-width="1.35"/>
<circle cx="403.3" cy="266.8" r="2.35" fill="none" stroke="#170d0b" stroke-width="1.35"/>
<circle cx="409" cy="324.4" r="2.35" fill="none" stroke="#170d0b" stroke-width="1.35"/>
<circle cx="436" cy="551" r="2.35" fill="none" stroke="#170d0b" stroke-width="1.35"/>
<circle cx="397" cy="763" r="2.35" fill="none" stroke="#170d0b" stroke-width="1.35"/>
<circle cx="284.5" cy="802.5" r="2.35" fill="none" stroke="#170d0b" stroke-width="1.35"/>
<circle cx="333" cy="874" r="2.35" fill="none" stroke="#170d0b" stroke-width="1.35"/>
<circle cx="302.6" cy="952.4" r="2.35" fill="none" stroke="#170d0b" stroke-width="1.35"/>
<circle cx="339" cy="1018.5" r="2.35" fill="none" stroke="#170d0b" stroke-width="1.35"/>
<circle cx="478.5" cy="69" r="2.35" fill="none" stroke="#170d0b" stroke-width="1.35"/>
<circle cx="455" cy="119" r="2.35" fill="none" stroke="#170d0b" stroke-width="1.35"/>
<circle cx="475" cy="295" r="2.35" fill="none" stroke="#170d0b" stroke-width="1.35"/>
<circle cx="514.6" cy="429.6" r="2.35" fill="none" stroke="#170d0b" stroke-width="1.35"/>
<circle cx="502.5" cy="458.5" r="2.35" fill="none" stroke="#170d0b" stroke-width="1.35"/>
<circle cx="462.4" cy="679.4" r="2.35" fill="none" stroke="#170d0b" stroke-width="1.35"/>
<circle cx="411" cy="822" r="2.35" fill="none" stroke="#170d0b" stroke-width="1.35"/>
<circle cx="455.2" cy="856.4" r="2.35" fill="none" stroke="#170d0b" stroke-width="1.35"/>
<circle cx="461.6" cy="944.6" r="2.35" fill="none" stroke="#170d0b" stroke-width="1.35"/>
</g>
<g id="labels" fill="#1b1b1b" stroke="#1b1b1b" stroke-width="0.28">
<text x="34.1" y="56.9" font-size="16.3" textLength="147.4" lengthAdjust="spacingAndGlyphs">Manufactured in NZ</text>
<text x="34.4" y="72.5" font-size="12.3" textLength="134.6" lengthAdjust="spacingAndGlyphs">- Built for NZ Conditions</text>
<text x="34.4" y="88.0" font-size="12.3" textLength="163.5" lengthAdjust="spacingAndGlyphs">- Nationwide Dealer Network</text>
<text x="34.4" y="103.6" font-size="12.3" textLength="200.8" lengthAdjust="spacingAndGlyphs">- Easily Access Support &amp; Wear Parts</text>
<text x="34.1" y="184.0" font-size="16.3" textLength="95.8" lengthAdjust="spacingAndGlyphs">Pulley Guard</text>
<text x="34.4" y="199.4" font-size="12.3" textLength="166.0" lengthAdjust="spacingAndGlyphs">- Safe Operation for All Users</text>
<text x="34.1" y="279.0" font-size="16.3" textLength="270.6" lengthAdjust="spacingAndGlyphs">‘Interchangeable’ Hydraulics System</text>
<text x="34.4" y="294.8" font-size="12.3" textLength="219.2" lengthAdjust="spacingAndGlyphs">- Faster Hammer Speed &amp; Cycle Times</text>
<text x="34.4" y="310.2" font-size="12.3" textLength="173.6" lengthAdjust="spacingAndGlyphs">- No High-flow Dump Required</text>
<text x="34.4" y="325.6" font-size="12.3" textLength="122.8" lengthAdjust="spacingAndGlyphs">- Reduced Rope Whip</text>
<text x="34.1" y="405.0" font-size="16.3" textLength="188.6" lengthAdjust="spacingAndGlyphs">NZ Made Hydraulic Rams</text>
<text x="34.4" y="420.8" font-size="12.3" textLength="111.2" lengthAdjust="spacingAndGlyphs">- Reliable &amp; Smooth</text>
<text x="34.1" y="500.6" font-size="16.3" textLength="301.8" lengthAdjust="spacingAndGlyphs">150UC Mast + 10mm Bisalloy Reinforcing</text>
<text x="34.4" y="516.0" font-size="12.3" textLength="178.4" lengthAdjust="spacingAndGlyphs">- Super Strong 350 Grade Steel</text>
<text x="34.4" y="531.6" font-size="12.3" textLength="221.6" lengthAdjust="spacingAndGlyphs">- Significantly Stronger &amp; More Durable</text>
<text x="34.1" y="613.6" font-size="16.3" textLength="224.2" lengthAdjust="spacingAndGlyphs">Optional Active Safety System</text>
<text x="34.4" y="629.0" font-size="12.3" textLength="243.6" lengthAdjust="spacingAndGlyphs">- Complete Protection from the Strike Zone</text>
<text x="34.4" y="644.6" font-size="12.3" textLength="180.0" lengthAdjust="spacingAndGlyphs">- Ideal for Contractors with Staff</text>
<text x="34.1" y="724.4" font-size="16.3" textLength="231.8" lengthAdjust="spacingAndGlyphs">Custom Built Italian Valve Bank</text>
<text x="34.4" y="740.2" font-size="12.3" textLength="182.0" lengthAdjust="spacingAndGlyphs">- Smooth Progressive Operation</text>
<text x="34.1" y="820.0" font-size="16.3" textLength="128.6" lengthAdjust="spacingAndGlyphs">Hydraulic Toplink</text>
<text x="34.4" y="835.6" font-size="12.3" textLength="125.6" lengthAdjust="spacingAndGlyphs">- Fast Post Positioning</text>
<text x="34.4" y="851.2" font-size="12.3" textLength="47.2" lengthAdjust="spacingAndGlyphs">- 25° Tilt</text>
<text x="34.1" y="931.2" font-size="16.3" textLength="168.2" lengthAdjust="spacingAndGlyphs">3-Point Linkage Mount</text>
<text x="34.4" y="946.6" font-size="12.3" textLength="132.8" lengthAdjust="spacingAndGlyphs">- Ideal For on Farm Use</text>
<text x="34.1" y="1026.0" font-size="16.3" textLength="172.2" lengthAdjust="spacingAndGlyphs">Adjustable Foot Height</text>
<text x="34.4" y="1041.8" font-size="12.3" textLength="254.8" lengthAdjust="spacingAndGlyphs">- Adjust The Machine to Suit Your Preference</text>
<text x="657.9" y="56.9" font-size="16.3" textLength="111.6" lengthAdjust="spacingAndGlyphs">140mm Pulleys</text>
<text x="651.0" y="72.5" font-size="12.3" textLength="118.2" lengthAdjust="spacingAndGlyphs">- Extended Rope Life</text>
<text x="556.3" y="169.8" font-size="16.3" textLength="213.2" lengthAdjust="spacingAndGlyphs">3.2m - 5.0m Expanding Mast</text>
<text x="589.4" y="185.4" font-size="12.3" textLength="179.8" lengthAdjust="spacingAndGlyphs">- Easy Transportation &amp; Storage</text>
<text x="546.2" y="200.8" font-size="12.3" textLength="223.0" lengthAdjust="spacingAndGlyphs">- Work in Areas with Limited Headroom</text>
<text x="649.5" y="297.8" font-size="16.3" textLength="120.0" lengthAdjust="spacingAndGlyphs">9mm Wire Rope</text>
<text x="676.6" y="313.2" font-size="12.3" textLength="92.6" lengthAdjust="spacingAndGlyphs">- Long Rope Life</text>
<text x="617.9" y="410.6" font-size="16.3" textLength="151.6" lengthAdjust="spacingAndGlyphs">300-340kg Hammer</text>
<text x="627.4" y="426.0" font-size="12.3" textLength="141.8" lengthAdjust="spacingAndGlyphs">- Improved Hitting Power</text>
<text x="563.1" y="523.8" font-size="16.3" textLength="206.4" lengthAdjust="spacingAndGlyphs">50mm Plastic Slide Postcap</text>
<text x="660.6" y="539.2" font-size="12.3" textLength="108.6" lengthAdjust="spacingAndGlyphs">- With Plastic Block</text>
<text x="655.4" y="554.8" font-size="12.3" textLength="113.8" lengthAdjust="spacingAndGlyphs">- Easy Post Steering</text>
<text x="546.3" y="636.2" font-size="16.3" textLength="223.2" lengthAdjust="spacingAndGlyphs">Optional Accessory Upgrades</text>
<text x="541.4" y="651.6" font-size="12.3" textLength="227.8" lengthAdjust="spacingAndGlyphs">- Add a Rockspike, Auger or Torque Drill</text>
<text x="638.6" y="667.0" font-size="12.3" textLength="130.6" lengthAdjust="spacingAndGlyphs">to Suit Your Conditions</text>
<text x="519.9" y="779.4" font-size="16.3" textLength="249.6" lengthAdjust="spacingAndGlyphs">Pin &amp; Chain Post Steering System</text>
<text x="498.2" y="794.8" font-size="12.3" textLength="271.0" lengthAdjust="spacingAndGlyphs">- Better Post Steering in Challenging Conditions</text>
<text x="633.9" y="892.4" font-size="16.3" textLength="135.6" lengthAdjust="spacingAndGlyphs">Hydraulic Side Tilt</text>
<text x="643.0" y="907.8" font-size="12.3" textLength="126.2" lengthAdjust="spacingAndGlyphs">- Fast Post Positioning</text>
<text x="721.4" y="923.2" font-size="12.3" textLength="47.8" lengthAdjust="spacingAndGlyphs">- 20° Tilt</text>
<text x="586.3" y="1020.2" font-size="16.3" textLength="183.2" lengthAdjust="spacingAndGlyphs">Optional Base Upgrades</text>
<text x="462.6" y="1036.0" font-size="12.3" textLength="306.6" lengthAdjust="spacingAndGlyphs">- Add a Mastshift / Terminator / Dominator / Skid Steer</text>
<text x="515.8" y="1051.6" font-size="12.3" textLength="253.4" lengthAdjust="spacingAndGlyphs">or Digger Hitch Base for Improved Efficiency</text>
</g>
</svg>
</body></html>
